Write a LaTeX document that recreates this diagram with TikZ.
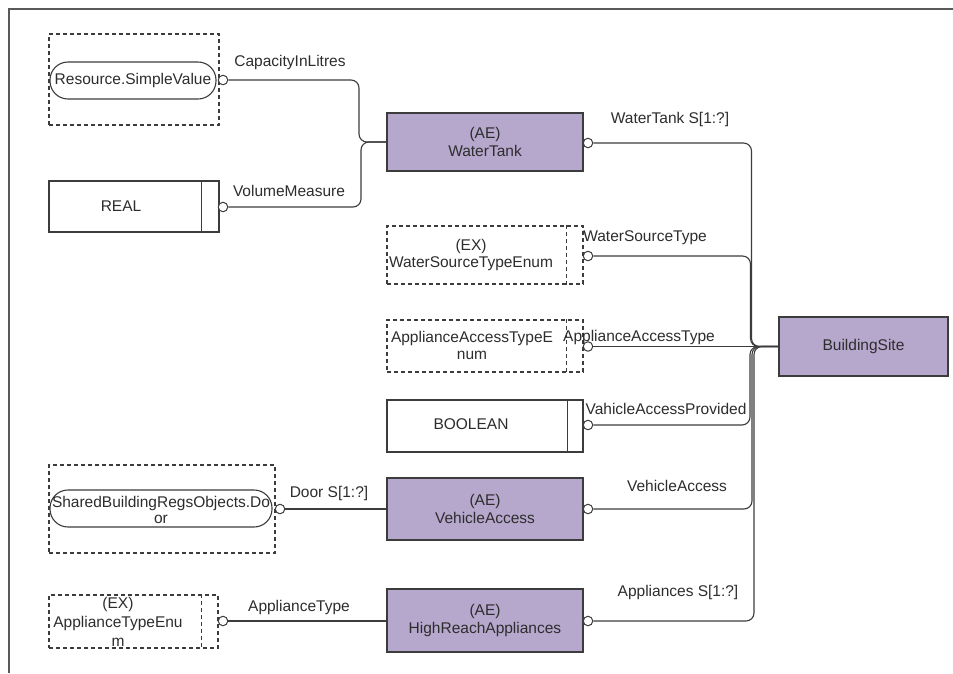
\documentclass[tikz,border=0pt]{standalone}
\usepackage{fontspec}
\setmainfont{Liberation Sans}
\definecolor{ae}{RGB}{182,167,204}
\definecolor{ln}{RGB}{60,60,60}
\definecolor{tx}{RGB}{45,45,45}
\begin{document}
\begin{tikzpicture}[x=1pt,y=-1pt,
  every node/.style={font=\fontsize{15.5}{17.5}\selectfont, text=tx, inner sep=0pt},
  box/.style={draw=ln, line width=1.1pt, minimum width=#1pt},
  aebox/.style={draw=ln, line width=1.3pt, fill=ae, align=center},
  dbox/.style={draw=ln, line width=1.1pt, dash pattern=on 4pt off 3pt},
  pill/.style={draw=ln, line width=1.1pt, rounded corners=18pt},
  ring/.style={circle, draw=ln, fill=white, line width=1pt, minimum size=9.5pt},
  conn/.style={draw=ln, line width=1.1pt, rounded corners=8pt},
  lbl/.style={font=\fontsize{15.5}{17.5}\selectfont}
]
\useasboundingbox (0,0) rectangle (953,673);
\fill[white] (0,0) rectangle (953,673);
% frame
\draw[line width=1.4pt, draw=black!65] (953,9) -- (9,9) -- (9,673);

% Resource.SimpleValue
\node[dbox, minimum width=170pt, minimum height=91pt] (resbox) at (134,79.5) {};
\node[pill, minimum width=166pt, minimum height=37pt] (res) at (133,80.5) {};
\node (restxt) at (133,80) {Resource.SimpleValue};
\node[ring] (resc) at (223,80) {};
\node[lbl] (lcap) at (290,62) {CapacityInLitres};

% REAL
\node[box=170, minimum height=51pt] (real) at (134,206.5) {};
\draw[draw=ln, line width=1.1pt] ([xshift=-18pt]real.north east) -- ([xshift=-18pt]real.south east);
\node (realtxt) at (121,206) {REAL};
\node[ring] (realc) at (223,207) {};
\node[lbl] (lvol) at (289,191) {VolumeMeasure};

% WaterTank
\node[aebox, minimum width=196pt, minimum height=58pt] (wt) at (485,142) {(AE)\\WaterTank};
\node[ring] (wtc) at (588,143) {};
\node[lbl] (lwt) at (670,119) {WaterTank S[1:?]};

% WaterSourceTypeEnum
\node[dbox, minimum width=196pt, minimum height=58pt] (wst) at (485,255) {};
\draw[draw=ln, line width=1.1pt, dash pattern=on 4pt off 3pt] ([xshift=-17pt]wst.north east) -- ([xshift=-17pt]wst.south east);
\node[align=center] (wsttxt) at (471,255) {(EX)\\WaterSourceTypeEnum};
\node[ring] (wstc) at (588,256) {};
\node[lbl] (lwst) at (645,238) {WaterSourceType};

% ApplianceAccessTypeEnum
\node[dbox, minimum width=196pt, minimum height=52pt] (aat) at (485,346) {};
\draw[draw=ln, line width=1.1pt, dash pattern=on 4pt off 3pt] ([xshift=-17pt]aat.north east) -- ([xshift=-17pt]aat.south east);
\node[align=center] (aattxt) at (472,345.5) {ApplianceAccessTypeE\\num};
\node[lbl] (laat) at (639,337) {ApplianceAccessType};
\node[ring] (aatc) at (588,346.5) {};

% BOOLEAN
\node[box=196, minimum height=52pt] (bool) at (485,426) {};
\draw[draw=ln, line width=1.1pt] ([xshift=-16pt]bool.north east) -- ([xshift=-16pt]bool.south east);
\node (booltxt) at (471,424) {BOOLEAN};
\node[ring] (boolc) at (588,425) {};
\node[lbl] (lbool) at (666,409) {VahicleAccessProvided};

% VehicleAccess
\node[aebox, minimum width=196pt, minimum height=62pt] (va) at (485,509) {(AE)\\VehicleAccess};
\node[ring] (vac) at (588,509) {};
\node[lbl] (lva) at (677,486) {VehicleAccess};

% HighReachAppliances
\node[aebox, minimum width=196pt, minimum height=63pt] (hra) at (485,620.5) {(AE)\\HighReachAppliances};
\node[ring] (hrac) at (588,621) {};
\node[lbl] (lhra) at (678,592) {Appliances S[1:?]};

% BuildingSite
\node[aebox, minimum width=169pt, minimum height=59pt] (bs) at (863.5,346.5) {BuildingSite};

% Door
\node[dbox, minimum width=226pt, minimum height=88pt] (doorbox) at (162,509) {};
\node[pill, minimum width=222pt, minimum height=37pt] (door) at (161,508.5) {};
\node[align=center, font=\fontsize{15.5}{16.5}\selectfont] (doortxt) at (161,510) {SharedBuildingRegsObjects.Do\\or};
\node[ring] (doorc) at (280,509) {};
\node[lbl] (ldoor) at (329,493) {Door S[1:?]};

% ApplianceTypeEnum
\node[dbox, minimum width=169pt, minimum height=53pt] (ate) at (133.5,621.5) {};
\draw[draw=ln, line width=1.1pt, dash pattern=on 4pt off 3pt] ([xshift=-17pt]ate.north east) -- ([xshift=-17pt]ate.south east);
\node[align=center, font=\fontsize{15.5}{19}\selectfont] (atetxt) at (118,621.5) {(EX)\\ApplianceTypeEnu\\m};
\node[ring] (atec) at (223,621) {};
\node[lbl] (late) at (299,607) {ApplianceType};

% connectors left
\draw[conn] (resc.east) -- (359,80) -- (359,142) -- (wt.west);
\draw[conn] (realc.east) -- (361,207) -- (361,142) -- (wt.west);
\draw[conn] (doorc.east) -- (va.west);
\draw[conn] (atec.east) -- (hra.west |- atec.east);

% connectors right
\draw[conn] (wtc.east) -- (751.5,143) -- (751.5,346.5) -- (bs.west);
\draw[conn] (wstc.east) -- (750.5,256) -- (750.5,346.5) -- (bs.west);
\draw[conn] (aatc.east) -- (bs.west);
\draw[conn] (boolc.east) -- (750,425) -- (750,346.5) -- (bs.west);
\draw[conn] (vac.east) -- (752,509) -- (752,346.5) -- (bs.west);
\draw[conn] (hrac.east) -- (754,621) -- (754,346.5) -- (bs.west);
\end{tikzpicture}
\end{document}
